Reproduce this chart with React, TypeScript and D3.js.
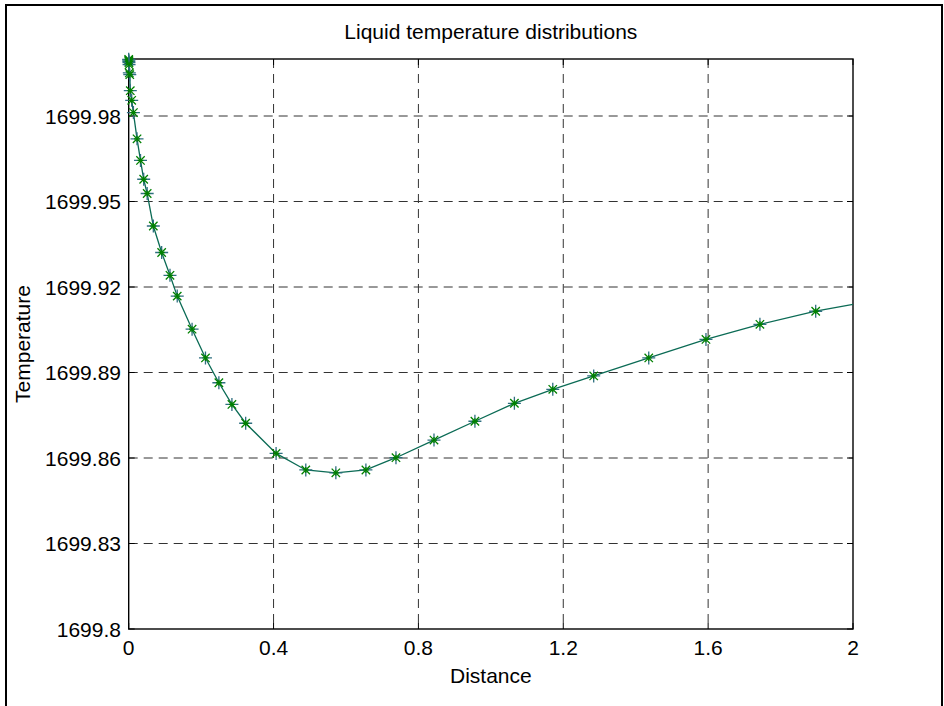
import React from "react";
import * as d3 from "d3";

const title = "Liquid temperature distributions";
const xLabel = "Distance";
const yLabel = "Temperature";

const xTicks = [0, 0.4, 0.8, 1.2, 1.6, 2];
const yTicks = [1699.8, 1699.83, 1699.86, 1699.89, 1699.92, 1699.95, 1699.98];

// marker positions (distance, temperature)
const distance = [
  0, 0.0002, 0.0004, 0.0007, 0.001, 0.0017, 0.003, 0.0044, 0.0083, 0.013,
  0.023, 0.0326, 0.0414, 0.051, 0.068, 0.091, 0.114, 0.134, 0.175, 0.212,
  0.249, 0.285, 0.323, 0.407, 0.489, 0.572, 0.655, 0.738, 0.843, 0.956,
  1.065, 1.171, 1.284, 1.436, 1.594, 1.743, 1.897,
];
const temperature = [
  1699.9999, 1699.9996, 1699.9992, 1699.9987, 1699.9980, 1699.9951, 1699.9945, 1699.9889, 1699.9855, 1699.9812,
  1699.9720, 1699.9644, 1699.9578, 1699.9528, 1699.9414, 1699.9321, 1699.9241, 1699.9168, 1699.9052, 1699.8951,
  1699.8864, 1699.8788, 1699.8722, 1699.8616, 1699.8558, 1699.8548, 1699.8558, 1699.8601, 1699.8663, 1699.8729,
  1699.8792, 1699.8841, 1699.8888, 1699.8951, 1699.9016, 1699.9069, 1699.9115,
];
// line continues to the end of the domain
const lineEndDistance = [2.0];
const lineEndTemperature = [1699.9139];

const W = 944;
const H = 706;
const L = 128.7, R = 853, T = 59, B = 629;
const FONT = "'Liberation Sans', Arial, Helvetica, sans-serif";
const FS = 21;

export default function App() {
  const x = d3.scaleLinear().domain([0, 2]).range([L, R]);
  const y = d3.scaleLinear().domain([1699.8, 1700]).range([B, T]);

  const pts: [number, number][] = distance.map((d, i) => [d, temperature[i]]);
  const linePts: [number, number][] = pts.concat(
    lineEndDistance.map((d, i) => [d, lineEndTemperature[i]] as [number, number])
  );
  const line = d3
    .line<[number, number]>()
    .x((p) => x(p[0]))
    .y((p) => y(p[1]));

  const fmt = (v: number) => String(+v.toFixed(2));
  const a = 6.5; // plus arm
  const b = 4.2; // cross arm

  return (
    <svg
      width={W}
      height={H}
      style={{ position: "absolute", left: 0, top: 0, background: "#fff" }}
      fontFamily={FONT}
    >
      <rect x={6} y={5} width={936} height={710} fill="#fff" stroke="#000" strokeWidth={2} />

      {/* grid */}
      {xTicks.slice(1, -1).map((t) => (
        <line key={"gx" + t} x1={x(t)} x2={x(t)} y1={T} y2={B} stroke="#333" strokeWidth={1} strokeDasharray="9,6" />
      ))}
      {yTicks.slice(1).map((t) => (
        <line key={"gy" + t} x1={L} x2={R} y1={y(t)} y2={y(t)} stroke="#333" strokeWidth={1} strokeDasharray="9,6" />
      ))}

      {/* axes box */}
      <rect x={L} y={T} width={R - L} height={B - T} fill="none" stroke="#000" strokeWidth={1.4} />

      {/* ticks */}
      {xTicks.map((t) => (
        <g key={"tx" + t}>
          <line x1={x(t)} x2={x(t)} y1={B} y2={B - 6} stroke="#000" />
          <line x1={x(t)} x2={x(t)} y1={T} y2={T + 6} stroke="#000" />
          <text x={x(t)} y={655} textAnchor="middle" fontSize={FS} fill="#000">
            {String(t)}
          </text>
        </g>
      ))}
      {yTicks.map((t) => (
        <g key={"ty" + t}>
          <line x1={L} x2={L + 6} y1={y(t)} y2={y(t)} stroke="#000" />
          <line x1={R} x2={R - 6} y1={y(t)} y2={y(t)} stroke="#000" />
          <text x={121} y={y(t) + 7.5} textAnchor="end" fontSize={FS} fill="#000">
            {fmt(t)}
          </text>
        </g>
      ))}

      {/* curve */}
      <path d={line(linePts) || ""} fill="none" stroke="#0b6b55" strokeWidth={1.3} />

      {/* markers */}
      {pts.map((p, i) => {
        const cx = x(p[0]);
        const cy = y(p[1]);
        return (
          <g key={"m" + i}>
            <path
              d={`M${cx - a},${cy}H${cx + a}M${cx},${cy - a}V${cy + a}`}
              stroke="#2f6f80"
              strokeWidth={1.3}
            />
            <path
              d={`M${cx - b},${cy - b}L${cx + b},${cy + b}M${cx - b},${cy + b}L${cx + b},${cy - b}`}
              stroke="#008000"
              strokeWidth={1.3}
            />
            <path
              d={`M${cx - 3},${cy}H${cx + 3}M${cx},${cy - 3}V${cy + 3}`}
              stroke="#008000"
              strokeWidth={1.3}
            />
          </g>
        );
      })}

      {/* labels */}
      <text x={(L + R) / 2} y={39} textAnchor="middle" fontSize={FS} fill="#000">
        {title}
      </text>
      <text x={(L + R) / 2} y={683} textAnchor="middle" fontSize={FS} fill="#000">
        {xLabel}
      </text>
      <text
        transform={`translate(30,${(T + B) / 2}) rotate(-90)`}
        textAnchor="middle"
        fontSize={FS}
        fill="#000"
      >
        {yLabel}
      </text>
    </svg>
  );
}
